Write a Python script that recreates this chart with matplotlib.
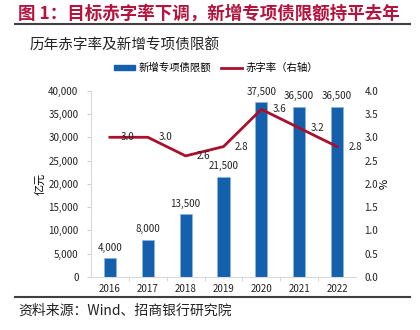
import matplotlib
matplotlib.use("Agg")
import matplotlib.pyplot as plt
from matplotlib.lines import Line2D
from matplotlib.patches import Patch

plt.rcParams['font.family'] = ['Noto Sans CJK SC', 'DejaVu Sans']

years = ["2016", "2017", "2018", "2019", "2020", "2021", "2022"]
quota = [4000, 8000, 13500, 21500, 37500, 36500, 36500]   # 新增专项债限额, 亿元
deficit = [3.0, 3.0, 2.6, 2.8, 3.6, 3.2, 2.8]             # 赤字率, %

blue = "#1560AC"
red = "#A8102E"
title_red = "#B5123C"
grey = "#404040"

W, H = 420, 330
fig = plt.figure(figsize=(W / 100, H / 100), dpi=100)

ax = fig.add_axes([91 / W, (H - 277) / H, (356 - 91) / W, (277 - 90.7) / H])
x = list(range(len(years)))
bars = ax.bar(x, quota, width=0.32, color=blue, edgecolor="#8FB4DC", linewidth=0.6, zorder=2)
ax.set_xlim(-0.5, len(years) - 0.5)
ax.set_ylim(0, 40000)
ax.set_yticks(range(0, 40001, 5000))
ax.set_yticklabels([f"{v:,}" for v in range(0, 40001, 5000)], fontsize=7, color="#222222")
ax.set_xticks(x)
ax.set_xticklabels(years, fontsize=7, color="#222222")
ax.set_xticks([i + 0.5 for i in x[:-1]], minor=True)
ax.tick_params(axis="x", which="major", length=0, pad=5)
ax.tick_params(axis="x", which="minor", length=3, color="#D0D0D0")
ax.tick_params(axis="y", length=3, color="#D0D0D0", pad=6)
for s in ["top", "right"]:
    ax.spines[s].set_visible(False)
for s in ["left", "bottom"]:
    ax.spines[s].set_color("#D9D9D9")
ax.set_ylabel("亿元", fontsize=8, labelpad=2)

for xi, v in zip(x, quota):
    ax.annotate(f"{v:,}", (xi, v), xytext=(0, 4), textcoords="offset points",
                ha="center", va="bottom", fontsize=7, color="#222222")

ax2 = ax.twinx()
ax2.plot(x, deficit, color=red, linewidth=2, zorder=3)
ax2.set_ylim(0, 4)
ax2.set_yticks([i * 0.5 for i in range(9)])
ax2.set_yticklabels([f"{i * 0.5:.1f}" for i in range(9)], fontsize=7, color="#222222")
ax2.tick_params(axis="y", length=0, pad=6)
for s in ["top", "right", "left", "bottom"]:
    ax2.spines[s].set_visible(False)
ax2.set_ylabel("%", fontsize=8, labelpad=1)

for xi, v in zip(x, deficit):
    ax2.annotate(f"{v:.1f}", (xi, v), xytext=(8, 0), textcoords="offset points",
                 ha="left", va="center", fontsize=7, color="#222222")

# 标题、副标题、图例与来源
fig.text(18 / W, 1 - 14 / H, "图 1：目标赤字率下调，新增专项债限额持平去年",
         fontsize=12.6, fontweight="bold", color=title_red, va="center", ha="left")
fig.add_artist(Line2D([15 / W, 410 / W], [1 - 24 / H] * 2, color=grey, linewidth=1.5))
fig.text(30 / W, 1 - 46 / H, "历年赤字率及新增专项债限额", fontsize=10.5,
         fontweight="light", color="#222222", va="center", ha="left")

handles = [Patch(facecolor=blue, edgecolor=blue),
           Line2D([0], [0], color=red, linewidth=2)]
fig.legend(handles, ["新增专项债限额", "赤字率（右轴）"], loc="center",
           bbox_to_anchor=(216 / W, 1 - 68 / H), ncol=2, frameon=False,
           fontsize=7.5, handlelength=2.0, handleheight=0.35, columnspacing=1.0,
           handletextpad=0.3)

fig.add_artist(Line2D([15 / W, 410 / W], [1 - 297 / H] * 2, color=grey, linewidth=1.5))
fig.text(18 / W, 1 - 311 / H, "资料来源：Wind、招商银行研究院", fontsize=10,
         fontweight="light", color="#222222", va="center", ha="left")

fig.savefig("out.png", dpi=100)
